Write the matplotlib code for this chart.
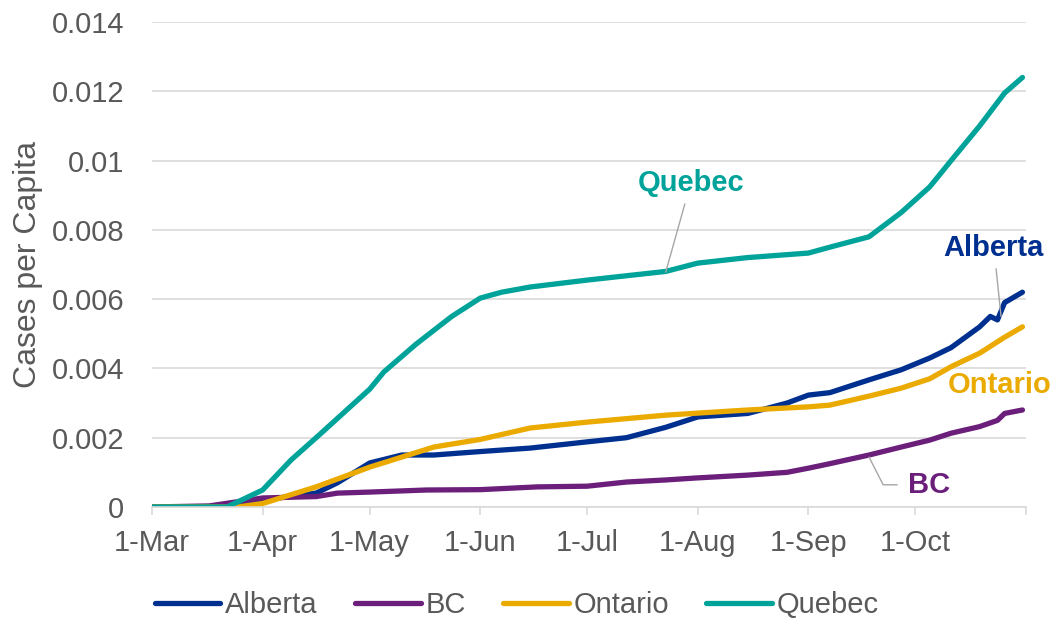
import matplotlib
matplotlib.use("Agg")
from matplotlib import pyplot as plt
import pandas as pd

plt.rcParams['font.family'] = ['Liberation Sans', 'DejaVu Sans']

# values (cases per capita)
quebec_dates = ['2020-03-01', '2020-03-22', '2020-04-01', '2020-04-09', '2020-04-16', '2020-05-01',
                '2020-05-05', '2020-05-14', '2020-05-24', '2020-06-01', '2020-06-07', '2020-06-15',
                '2020-07-01', '2020-07-23', '2020-08-01', '2020-08-15', '2020-09-01', '2020-09-07',
                '2020-09-18', '2020-09-27', '2020-10-05', '2020-10-11', '2020-10-19', '2020-10-26',
                '2020-10-31']
quebec = [0, 0, 0.00049, 0.00136, 0.002, 0.0034,
          0.0039, 0.0047, 0.0055, 0.00603, 0.0062, 0.00635,
          0.00655, 0.0068, 0.00704, 0.0072, 0.00733, 0.0075,
          0.0078, 0.0085, 0.00924, 0.01, 0.011, 0.01195,
          0.0124]

alberta_dates = ['2020-03-01', '2020-03-24', '2020-04-01', '2020-04-16', '2020-04-22', '2020-05-01',
                 '2020-05-10', '2020-05-19', '2020-06-01', '2020-06-15', '2020-07-01', '2020-07-12',
                 '2020-07-23', '2020-08-01', '2020-08-15', '2020-08-26', '2020-09-01', '2020-09-07',
                 '2020-09-18', '2020-09-27', '2020-10-05', '2020-10-11', '2020-10-19', '2020-10-22',
                 '2020-10-24', '2020-10-26', '2020-10-31']
alberta = [0, 0, 0.0002, 0.0004, 0.0007, 0.00127,
           0.0015, 0.0015, 0.0016, 0.0017, 0.00188, 0.002,
           0.0023, 0.0026, 0.0027, 0.003, 0.00323, 0.0033,
           0.00367, 0.00396, 0.0043, 0.0046, 0.0052, 0.0055,
           0.0054, 0.0059, 0.0062]

ontario_dates = ['2020-03-01', '2020-03-25', '2020-04-01', '2020-04-16', '2020-05-01', '2020-05-10',
                 '2020-05-19', '2020-06-01', '2020-06-15', '2020-07-01', '2020-07-23', '2020-08-01',
                 '2020-08-15', '2020-09-01', '2020-09-07', '2020-09-18', '2020-09-27', '2020-10-05',
                 '2020-10-11', '2020-10-19', '2020-10-26', '2020-10-31']
ontario = [0, 0, 0.0001, 0.00058, 0.00115, 0.00144,
           0.00173, 0.00195, 0.00228, 0.00245, 0.00265, 0.00271,
           0.0028, 0.00289, 0.00294, 0.0032, 0.00343, 0.0037,
           0.00405, 0.00444, 0.0049, 0.0052]

bc_dates = ['2020-03-01', '2020-03-17', '2020-04-01', '2020-04-16', '2020-04-22', '2020-05-01',
            '2020-05-17', '2020-06-01', '2020-06-17', '2020-07-01', '2020-07-12', '2020-07-23',
            '2020-08-01', '2020-08-15', '2020-08-26', '2020-09-01', '2020-09-07', '2020-09-18',
            '2020-09-27', '2020-10-05', '2020-10-11', '2020-10-19', '2020-10-24', '2020-10-26',
            '2020-10-31']
bc = [0, 0.00003, 0.00026, 0.0003, 0.0004, 0.00043,
      0.00049, 0.0005, 0.00058, 0.0006, 0.00072, 0.00078,
      0.00084, 0.00092, 0.001, 0.00112, 0.00125, 0.0015,
      0.00173, 0.00193, 0.00213, 0.00232, 0.0025, 0.0027,
      0.0028]

tick_labels = ['1-Mar', '1-Apr', '1-May', '1-Jun', '1-Jul', '1-Aug', '1-Sep', '1-Oct', '']
ytick_vals = [0, 0.002, 0.004, 0.006, 0.008, 0.01, 0.012, 0.014]
ytick_labels = ['0', '0.002', '0.004', '0.006', '0.008', '0.01', '0.012', '0.014']

c_alb = '#00308F'
c_bc = '#6B1F7B'
c_ont = '#EBAA00'
c_que = '#00A39A'
grey = '#595959'
fs = 21

fig = plt.figure(figsize=(10.56, 6.2), dpi=100)
ax = fig.add_axes([0.144, 0.1823, 0.8276, 0.7822])

lw = 3.8
ax.plot(pd.to_datetime(alberta_dates), alberta, color=c_alb, lw=lw, label='Alberta', solid_capstyle='round')
ax.plot(pd.to_datetime(bc_dates), bc, color=c_bc, lw=lw, label='BC', solid_capstyle='round')
ax.plot(pd.to_datetime(ontario_dates), ontario, color=c_ont, lw=lw, label='Ontario', solid_capstyle='round')
ax.plot(pd.to_datetime(quebec_dates), quebec, color=c_que, lw=lw, label='Quebec', solid_capstyle='round')

ax.set_xlim(pd.Timestamp('2020-03-01'), pd.Timestamp('2020-11-01'))
ax.set_ylim(0, 0.014)
ax.set_yticks(ytick_vals)
ax.set_yticklabels(ytick_labels)
ax.set_xticks(pd.date_range('2020-03-01', '2020-11-01', freq='MS'))
ax.set_xticklabels(tick_labels)

ax.grid(axis='y', color='#D9D9D9', lw=1.2)
ax.set_axisbelow(True)
for s in ['top', 'right', 'left']:
    ax.spines[s].set_visible(False)
ax.spines['bottom'].set_color('#D9D9D9')
ax.spines['bottom'].set_linewidth(1.2)
ax.tick_params(axis='x', colors='#D9D9D9', labelcolor=grey, labelsize=fs, length=5.5, width=1.2, pad=10)
ax.tick_params(axis='y', length=0, labelcolor=grey, labelsize=fs, pad=20)
ax.set_ylabel('Cases per Capita', color=grey, fontsize=23)
ax.yaxis.set_label_coords(-0.125, 0.5)

# series labels with leader lines
lc = '#A6A6A6'
ax.annotate('Quebec', xy=(pd.Timestamp('2020-07-23'), 0.00678), xytext=(pd.Timestamp('2020-07-30'), 0.00935),
            color=c_que, fontsize=fs, fontweight='bold', ha='center', va='center',
            arrowprops=dict(arrowstyle='-', color=lc, lw=1, shrinkA=3, shrinkB=0))
ax.annotate('Alberta', xy=(pd.Timestamp('2020-10-25'), 0.0055), xytext=(pd.Timestamp('2020-10-23'), 0.00748),
            color=c_alb, fontsize=fs, fontweight='bold', ha='center', va='center', annotation_clip=False,
            arrowprops=dict(arrowstyle='-', color=lc, lw=1, shrinkA=3, shrinkB=0))
ax.text(pd.Timestamp('2020-10-10'), 0.00352, 'Ontario', color=c_ont, fontsize=fs, fontweight='bold',
        ha='left', va='center')
ax.annotate('BC', xy=(pd.Timestamp('2020-09-18'), 0.00144), xytext=(pd.Timestamp('2020-09-29'), 0.00064),
            color=c_bc, fontsize=fs, fontweight='bold', ha='left', va='center',
            arrowprops=dict(arrowstyle='-', color=lc, lw=1, shrinkA=6, shrinkB=0,
                            connectionstyle='angle,angleA=0,angleB=-63,rad=0'))

fig.legend(loc='center', bbox_to_anchor=(517 / 1056, 1 - 605 / 620), ncol=4, frameon=False,
           fontsize=fs, handlelength=2.24, handletextpad=0.17, columnspacing=1.28, labelcolor=grey)

fig.savefig('out.png', dpi=100)
